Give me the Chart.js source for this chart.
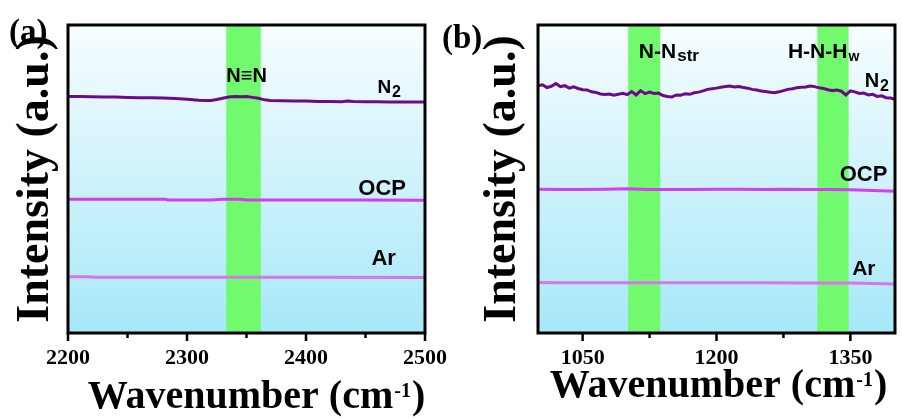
<!DOCTYPE html>
<html>
<head>
<meta charset="utf-8">
<script src="https://cdn.jsdelivr.net/npm/chart.js@4.4.0/dist/chart.umd.min.js"></script>
<style>
  html, body { margin: 0; padding: 0; background: #fff; }
  body { width: 902px; height: 419px; position: relative; overflow: hidden; }
  .panel { position: absolute; top: 0; height: 419px; }
  #wrapA { left: 0; width: 460px; }
  #wrapB { left: 440px; width: 462px; }
</style>
</head>
<body>
<div class="panel" id="wrapA"><canvas id="chartA" width="460" height="419"></canvas></div>
<div class="panel" id="wrapB"><canvas id="chartB" width="462" height="419"></canvas></div>
<script>
// ---------- Panel (a): 2200–2500 cm-1 ----------
const xTicksA = [2200, 2300, 2400, 2500];
const xMinorA = [2250, 2350, 2450];
const bandsA = [[2333, 2362]];

const n2A_x = [2200, 2210, 2220, 2230, 2240, 2250, 2260, 2270, 2280, 2290, 2300, 2310, 2315, 2320, 2325,
               2330, 2335, 2340, 2345, 2350, 2355, 2360, 2365, 2370, 2380, 2390, 2400, 2410, 2420, 2430,
               2435, 2440, 2450, 2460, 2470, 2480, 2490, 2500];
const n2A_y = [76.8, 76.8, 76.7, 76.6, 76.6, 76.5, 76.4, 76.4, 76.3, 76.1, 75.9, 75.6, 75.5, 75.5, 75.8,
               76.2, 76.6, 76.8, 76.7, 76.8, 76.5, 76.2, 75.7, 75.5, 75.4, 75.3, 75.3, 75.2, 75.2, 75.1,
               75.3, 75.2, 75.1, 75.1, 75.0, 75.0, 75.0, 75.0];

const ocpA_x = [2200, 2250, 2282, 2284, 2320, 2330, 2345, 2350, 2400, 2450, 2500];
const ocpA_y = [43.4, 43.4, 43.4, 43.2, 43.2, 43.4, 43.4, 43.2, 43.2, 43.2, 43.1];

const arA_x = [2200, 2215, 2225, 2300, 2400, 2500];
const arA_y = [18.3, 18.3, 18.1, 18.1, 18.1, 18.0];

// ---------- Panel (b): 1000–1400 cm-1 ----------
const xTicksB = [1050, 1200, 1350];
const xMinorB = [1125, 1275];
const bandsB = [[1101, 1137], [1313, 1348]];

const n2B_x = [1000, 1005, 1010, 1015, 1020, 1025, 1030, 1035, 1040, 1045, 1050, 1055, 1060, 1065, 1070,
               1075, 1080, 1085, 1090, 1095, 1100, 1105, 1110, 1115, 1120, 1125, 1130, 1135, 1140, 1145,
               1150, 1155, 1160, 1165, 1170, 1175, 1180, 1185, 1190, 1195, 1200, 1205, 1210, 1215, 1220,
               1225, 1230, 1235, 1240, 1245, 1250, 1255, 1260, 1265, 1270, 1275, 1280, 1285, 1290, 1295,
               1300, 1305, 1310, 1315, 1320, 1325, 1330, 1335, 1340, 1345, 1350, 1355, 1360, 1365, 1370,
               1375, 1380, 1385, 1390, 1395, 1400];
const n2B_y = [80.3, 80.6, 79.7, 80.1, 81.0, 80.0, 80.3, 79.5, 79.9, 79.4, 79.0, 78.9, 78.3, 78.1, 77.6,
               77.4, 77.6, 77.2, 77.5, 77.8, 77.4, 78.4, 77.3, 78.7, 77.7, 78.2, 77.8, 77.9, 77.1, 76.8,
               76.6, 77.3, 77.2, 77.7, 77.5, 78.0, 78.2, 78.6, 79.1, 79.3, 79.5, 79.8, 80.0, 80.2, 79.9,
               80.0, 79.7, 79.5, 79.1, 78.9, 78.6, 78.4, 78.2, 78.0, 78.3, 78.7, 79.1, 79.3, 79.6, 79.8,
               79.9, 80.2, 80.0, 79.6, 79.4, 79.0, 78.7, 78.9, 78.5, 77.3, 78.6, 78.3, 77.8, 77.9, 77.3,
               77.5, 76.8, 77.0, 76.4, 76.3, 75.9];

const ocpB_x = [1000, 1025, 1050, 1075, 1100, 1125, 1150, 1175, 1200, 1225, 1250, 1275, 1300, 1325, 1350, 1375, 1400];
const ocpB_y = [46.7, 46.6, 46.6, 46.7, 46.8, 46.6, 46.6, 46.6, 46.7, 46.7, 46.6, 46.7, 46.6, 46.6, 46.5, 46.3, 46.0];

const arB_x = [1000, 1025, 1050, 1100, 1150, 1200, 1250, 1300, 1350, 1375, 1400];
const arB_y = [16.4, 16.3, 16.3, 16.3, 16.3, 16.3, 16.3, 16.2, 16.2, 16.1, 15.9];

// ---------- styling ----------
const SERIF = "'Liberation Serif', 'Times New Roman', serif";
const SANS = "'Liberation Sans', Arial, sans-serif";
const COLOR_N2 = '#6E0A8A';
const COLOR_OCP = '#D23EF0';
const COLOR_AR = '#D874EC';

function pts(xs, ys) { return xs.map((x, i) => ({ x: x, y: ys[i] })); }

function series(label, xs, ys, color) {
  return {
    label: label,
    data: pts(xs, ys),
    borderColor: color,
    borderWidth: 3,
    pointRadius: 0,
    tension: 0,
    fill: false
  };
}

// Background gradient, highlighted bands, frame, ticks, labels and x title
const decorPlugin = {
  id: 'decor',
  beforeDatasetsDraw(chart, args, o) {
    const { ctx, chartArea: a, scales: { x } } = chart;
    ctx.save();
    const g = ctx.createLinearGradient(0, a.top, 0, a.bottom);
    g.addColorStop(0, '#F7FDFF');
    g.addColorStop(1, '#A6E8F8');
    ctx.fillStyle = g;
    ctx.fillRect(a.left, a.top, a.right - a.left, a.bottom - a.top);
    ctx.fillStyle = '#72FA6E';
    o.bands.forEach(([lo, hi]) => {
      const x0 = x.getPixelForValue(lo), x1 = x.getPixelForValue(hi);
      ctx.fillRect(x0, a.top, x1 - x0, a.bottom - a.top);
    });
    ctx.restore();
  },
  afterDatasetsDraw(chart, args, o) {
    const { ctx, chartArea: a, scales: { x, y } } = chart;
    ctx.save();
    // frame
    ctx.strokeStyle = '#000';
    ctx.lineWidth = 3;
    ctx.strokeRect(a.left, a.top, a.right - a.left, a.bottom - a.top);
    // tick marks below the bottom axis
    ctx.lineWidth = 2.5;
    ctx.beginPath();
    o.major.forEach(v => { const px = x.getPixelForValue(v); ctx.moveTo(px, a.bottom); ctx.lineTo(px, a.bottom + 8); });
    o.minor.forEach(v => { const px = x.getPixelForValue(v); ctx.moveTo(px, a.bottom); ctx.lineTo(px, a.bottom + 5); });
    ctx.stroke();

    // curve and band labels
    ctx.fillStyle = '#000';
    ctx.textBaseline = 'alphabetic';
    ctx.textAlign = 'left';
    o.labels.forEach(lb => {
      let px = x.getPixelForValue(lb.x);
      const py = y.getPixelForValue(lb.y);
      ctx.font = 'bold ' + lb.size + 'px ' + SANS;
      ctx.fillText(lb.text, px, py);
      px += ctx.measureText(lb.text).width;
      if (lb.sub) {
        ctx.font = 'bold ' + lb.subSize + 'px ' + SANS;
        ctx.fillText(lb.sub, px + 1, py + lb.subDrop);
      }
    });

    // panel letter
    ctx.font = 'bold 33px ' + SERIF;
    ctx.fillText(o.panel.text, o.panel.x, o.panel.y);

    // x-axis title with superscript
    const t1 = 'Wavenumber (cm', t2 = '-1', t3 = ')';
    const mainF = 'bold 40px ' + SERIF, supF = 'bold 20px ' + SERIF;
    ctx.font = mainF; const w1 = ctx.measureText(t1).width, w3 = ctx.measureText(t3).width;
    ctx.font = supF; const w2 = ctx.measureText(t2).width;
    let sx = (a.left + a.right) / 2 + o.title.dx - (w1 + w2 + w3 + 2) / 2;
    const by = o.title.baseline;
    ctx.font = mainF; ctx.fillText(t1, sx, by); sx += w1 + 1;
    ctx.font = supF; ctx.fillText(t2, sx, by - 11); sx += w2 + 1;
    ctx.font = mainF; ctx.fillText(t3, sx, by);
    ctx.restore();
  }
};

function makeChart(id, cfg) {
  return new Chart(document.getElementById(id), {
    type: 'line',
    data: { datasets: cfg.datasets },
    plugins: [decorPlugin],
    options: {
      responsive: false,
      animation: false,
      events: [],
      layout: { padding: { left: 0, right: cfg.padRight, top: 25, bottom: 0 } },
      plugins: {
        legend: { display: false },
        tooltip: { enabled: false },
        decor: cfg.decor
      },
      scales: {
        x: {
          type: 'linear',
          min: cfg.xmin, max: cfg.xmax,
          grid: { display: false, drawTicks: false },
          border: { display: false },
          afterBuildTicks: s => { s.ticks = cfg.major.map(v => ({ value: v })); },
          afterFit: s => { s.height = 86; },
          ticks: {
            padding: 12,
            color: '#000',
            font: { family: SERIF, weight: 'bold', size: 22 },
            callback: v => String(v)
          }
        },
        y: {
          min: 0, max: 100,
          grid: { display: false, drawTicks: false },
          border: { display: false },
          ticks: { display: false },
          afterFit: s => { s.width = cfg.yWidth; },
          title: {
            display: true,
            text: 'Intensity (a.u.)',
            color: '#000',
            font: { family: SERIF, weight: 'bold', size: 46 },
            padding: { top: cfg.yTitlePad, bottom: 0 }
          }
        }
      }
    }
  });
}

makeChart('chartA', {
  xmin: 2200, xmax: 2500, major: xTicksA, yWidth: 68, padRight: 35, yTitlePad: 9,
  datasets: [
    series('N2', n2A_x, n2A_y, COLOR_N2),
    series('OCP', ocpA_x, ocpA_y, COLOR_OCP),
    series('Ar', arA_x, arA_y, COLOR_AR)
  ],
  decor: {
    bands: bandsA, major: xTicksA, minor: xMinorA,
    panel: { text: '(a)', x: 9, y: 42 },
    title: { dx: 10, baseline: 408 },
    labels: [
      { text: 'N\u2261N', x: 2333, y: 81.5, size: 20 },
      { text: 'N', sub: '2', x: 2460, y: 77.8, size: 19, subSize: 16, subDrop: 4 },
      { text: 'OCP', x: 2444, y: 44.8, size: 22 },
      { text: 'Ar', x: 2455, y: 22.1, size: 22 }
    ]
  }
});

makeChart('chartB', {
  xmin: 1000, xmax: 1400, major: xTicksB, yWidth: 98, padRight: 7, yTitlePad: 36,
  datasets: [
    series('N2', n2B_x, n2B_y, COLOR_N2),
    series('OCP', ocpB_x, ocpB_y, COLOR_OCP),
    series('Ar', arB_x, arB_y, COLOR_AR)
  ],
  decor: {
    bands: bandsB, major: xTicksB, minor: xMinorB,
    panel: { text: '(b)', x: 2, y: 48 },
    title: { dx: 2, baseline: 397 },
    labels: [
      { text: 'N-N', sub: 'str', x: 1113, y: 89.2, size: 21, subSize: 17, subDrop: 3 },
      { text: 'H-N-H', sub: 'w', x: 1280, y: 89.2, size: 21, subSize: 14, subDrop: 3 },
      { text: 'N', sub: '2', x: 1366, y: 79.8, size: 20, subSize: 16, subDrop: 4 },
      { text: 'OCP', x: 1338, y: 49.4, size: 22 },
      { text: 'Ar', x: 1352, y: 18.8, size: 21 }
    ]
  }
});
</script>
</body>
</html>
